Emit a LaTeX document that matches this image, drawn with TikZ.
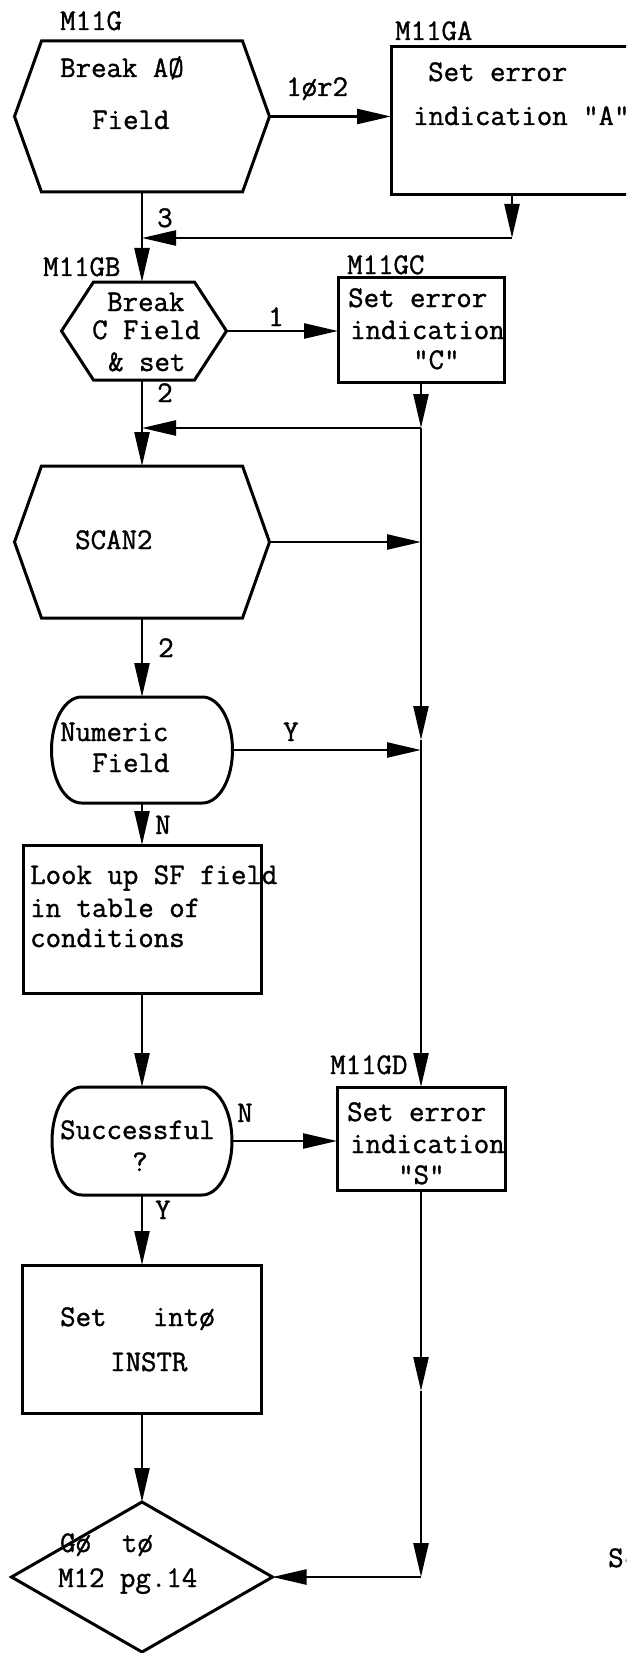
\documentclass[tikz,border=0pt]{standalone}
\usepackage{fontspec}
\newfontfamily\typew{Latin Modern Mono}[FakeBold=1.2]
\usetikzlibrary{arrows.meta,calc}
\tikzset{
  shapeline/.style={draw=black, line width=3pt, line join=miter},
  conn/.style={draw=black, line width=2.4pt},
  arr/.style={conn, -{Triangle[length=34pt,width=15pt]}},
  area/.style={draw=none, inner sep=0pt, outer sep=0pt, rectangle},
  txt/.style={font=\typew\fontsize{30}{31}\selectfont, inner sep=0pt, text height=18pt, text depth=0pt, anchor=west},
}
\newcommand{\hexoutline}[2]{\path[shapeline] ([xshift=#2]#1.north west) -- ([xshift=-#2]#1.north east) -- (#1.east) -- ([xshift=-#2]#1.south east) -- ([xshift=#2]#1.south west) -- (#1.west) -- cycle;}
\begin{document}
\begin{tikzpicture}[x=1pt,y=-1pt]
\useasboundingbox (0,0) rectangle (626,1653);
\clip (0,0) rectangle (626,1653);
\fill[white] (0,0) rectangle (626,1653);

% ---- shapes
\node[area, minimum width=255pt, minimum height=151pt] (g) at (142,116.5) {};
\hexoutline{g}{27pt}
\node[area, shapeline, minimum width=242pt, minimum height=148pt] (ga) at (512,121) {};
\node[area, minimum width=165pt, minimum height=98pt] (gb) at (144,331) {};
\hexoutline{gb}{32pt}
\node[area, shapeline, minimum width=166pt, minimum height=105pt] (gc) at (421,329.5) {};
\node[area, minimum width=255pt, minimum height=152pt] (scan) at (142,542) {};
\hexoutline{scan}{27pt}
\node[area, minimum width=181pt, minimum height=106pt] (num) at (142,750) {};
\path[shapeline] ([xshift=30pt]num.north west) -- ([xshift=-30pt]num.north east)
  arc[start angle=90, end angle=-90, x radius=30pt, y radius=53pt]
  -- ([xshift=30pt]num.south west)
  arc[start angle=270, end angle=90, x radius=30pt, y radius=53pt] -- cycle;
\node[area, shapeline, minimum width=238pt, minimum height=148pt] (look) at (142,919) {};
\node[area, minimum width=180pt, minimum height=108pt] (succ) at (142,1141) {};
\path[shapeline] ([xshift=30pt]succ.north west) -- ([xshift=-30pt]succ.north east)
  arc[start angle=90, end angle=-90, x radius=30pt, y radius=54pt]
  -- ([xshift=30pt]succ.south west)
  arc[start angle=270, end angle=90, x radius=30pt, y radius=54pt] -- cycle;
\node[area, shapeline, minimum width=168pt, minimum height=103pt] (gd) at (421,1138.5) {};
\node[area, shapeline, minimum width=239pt, minimum height=148pt] (setb) at (142,1339) {};
\node[area, minimum width=261pt, minimum height=150pt] (dia) at (142,1577) {};
\path[shapeline] (dia.north) -- (dia.east) -- (dia.south) -- (dia.west) -- cycle;

% ---- connectors
\coordinate (rline) at (421,0);
\coordinate (r1) at (512,238);
\coordinate (j1) at (421,428);
\coordinate (j3) at (421,740);
\coordinate (k1) at (421,1391);
\coordinate (k2) at (421,1577);
\draw[arr] (g.east) -- (g.east -| ga.west);
\draw[arr] (ga.south) -- (r1);
\draw[arr] (r1) -- (r1 -| g.south);
\draw[arr] (g.south) -- (g.south |- gb.north);
\draw[arr] (gb.east) -- (gb.east -| gc.west);
\draw[arr] (gc.south) -- (j1);
\draw[arr] (j1) -- (j1 -| scan.north);
\draw[arr] (gb.south -| scan.north) -- (scan.north);
\draw[arr] (scan.east) -- (scan.east -| rline);
\draw[arr] (scan.south) -- (num.north);
\draw[arr] (j1) -- (j3);
\draw[arr] (j3) -- (gd.north);
\draw[arr] (num.east) -- (num.east -| rline);
\draw[arr] (num.south) -- (look.north);
\draw[arr] (look.south) -- (succ.north);
\draw[arr] (succ.east) -- (succ.east -| gd.west);
\draw[arr] (succ.south) -- (setb.north);
\draw[arr] (setb.south) -- (dia.north);
\draw[arr] (gd.south) -- (k1);
\draw[arr] (k1) -- (k2);
\draw[arr] (k2) -- (dia.east);

% ---- labels
\node[txt] (l1) at (60,21) {M11G};
\node[txt] (l2) at (395,31) {M11GA};
\node[txt] (l3) at (286,87) {1ør2};
\node[txt] (l4) at (157,218) {3};
\node[txt] (l5) at (43,267) {M11GB};
\node[txt] (l6) at (347,265) {M11GC};
\node[txt] (l7) at (268,317) {1};
\node[txt] (l8) at (157,393) {2};
\node[txt] (l9) at (158,648) {2};
\node[txt] (l10) at (283,732) {Y};
\node[txt] (l11) at (155,825) {N};
\node[txt] (l12) at (330,1065) {M11GD};
\node[txt] (l13) at (237,1113) {N};
\node[txt] (l14) at (155,1210) {Y};
\node[txt] (l15) at (608,1558) {Sc};

% ---- texts inside shapes
\node[txt] (a1) at (60,68) {Break AØ};
\node[txt] (a2) at (92,120) {Field};
\node[txt] (b1) at (428,72) {Set error};
\node[txt] (b2) at (413,116) {indication "A"};
\node[txt] (c1) at (107,302) {Break};
\node[txt] (c2) at (92,330) {C Field};
\node[txt] (c3) at (108,362) {\& set};
\node[txt] (d1) at (348,298) {Set error};
\node[txt] (d2) at (350,330) {indication};
\node[txt] (d3) at (413,360) {"C"};
\node[txt] (e1) at (75,540) {SCAN2};
\node[txt] (f1) at (60,732) {Numeric};
\node[txt] (f2) at (92,763) {Field};
\node[txt] (h1) at (30,875) {Look up SF field};
\node[txt] (h2) at (30,908) {in table of};
\node[txt] (h3) at (30,938) {conditions};
\node[txt] (i1) at (60,1130) {Successful};
\node[txt] (i2) at (132,1162) {?};
\node[txt] (k3) at (347,1112) {Set error};
\node[txt] (k4) at (350,1144) {indication};
\node[txt] (k5) at (398,1175) {"S"};
\node[txt] (m1) at (60,1317) {Set\ \ \ intø};
\node[txt] (m2) at (110,1362) {INSTR};
\node[txt] (n1) at (60,1543) {Gø\ \ tø};
\node[txt] (n2) at (58,1578) {M12 pg.14};
\end{tikzpicture}
\end{document}
